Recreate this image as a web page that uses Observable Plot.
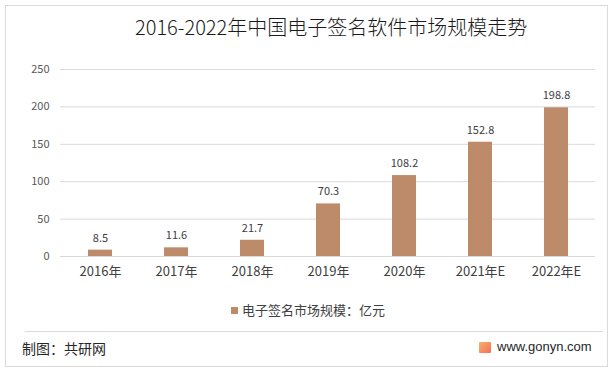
<!DOCTYPE html>
<html><head><meta charset="utf-8">
<script src="https://cdn.jsdelivr.net/npm/d3@7"></script>
<script src="https://cdn.jsdelivr.net/npm/@observablehq/plot@0.6"></script>
<style>
html,body{margin:0;padding:0;background:#fff;}
body{font-family:"Noto Sans CJK SC","Noto Sans",sans-serif;}
#frame{position:relative;width:616px;height:373px;overflow:hidden;}
#border{position:absolute;left:5px;top:5px;width:603px;height:362px;border:1px solid #d9d9d9;box-sizing:border-box;}
#title{position:absolute;left:135px;top:14px;white-space:nowrap;font-size:20px;line-height:26px;color:#1a1a1a;font-weight:300;}
#chart{position:absolute;left:0;top:0;}
#legend{position:absolute;top:301px;left:231px;font-size:13px;line-height:18px;color:#404040;display:flex;align-items:center;}
#legend span.sw{display:inline-block;width:7px;height:7px;background:#BE8B6A;margin-right:4px;}
#divider{position:absolute;left:25px;top:331px;width:578px;height:1px;background:#d9d9d9;}
#caption{position:absolute;left:22px;top:338px;font-size:14px;line-height:20px;color:#262626;}
#site{position:absolute;left:479px;top:338px;font-size:13px;line-height:18px;color:#262626;display:flex;align-items:center;font-family:"Liberation Sans",Arial,sans-serif;}
#site .logo{display:inline-block;width:12px;height:11px;background:linear-gradient(135deg,#f7b267,#f27059);margin-right:6px;border-radius:1px;}
</style></head>
<body>
<div id="frame">
  <div id="border"></div>
  <div id="chart"></div>
  <div id="title"></div>
  <div id="legend"><span class="sw"></span><span id="legendText"></span></div>
  <div id="divider"></div>
  <div id="caption"></div>
  <div id="site"><span class="logo"></span><span>www.gonyn.com</span></div>
</div>
<script>
const titleText = "2016-2022年中国电子签名软件市场规模走势";
const years = ["2016年","2017年","2018年","2019年","2020年","2021年E","2022年E"];
const values = [8.5, 11.6, 21.7, 70.3, 108.2, 152.8, 198.8];
const yTicks = [0, 50, 100, 150, 200, 250];
const seriesName = "电子签名市场规模：亿元";
const captionText = "制图：共研网";

document.getElementById("title").textContent = titleText;
document.getElementById("legendText").textContent = seriesName;
document.getElementById("caption").textContent = captionText;

const data = years.map((y, i) => ({year: y, value: values[i]}));
const color = "#BE8B6A";

const chart = Plot.plot({
  width: 616,
  height: 300,
  marginTop: 69,
  marginBottom: 44,
  marginLeft: 60,
  marginRight: 21,
  style: {fontFamily: "'Noto Sans CJK SC','Noto Sans',sans-serif", background: "transparent"},
  x: {domain: years, paddingInner: 0.69, paddingOuter: 0.345, label: null},
  y: {domain: [0, 250], ticks: yTicks, label: null},
  marks: [
    Plot.gridY(yTicks, {stroke: "#d9d9d9", strokeOpacity: 1}),
    Plot.axisY({ticks: yTicks, tickSize: 0, tickPadding: 11, fontSize: 11, fill: "#595959", label: null}),
    Plot.axisX({tickSize: 0, tickPadding: 10, fontSize: 13, fill: "#404040", label: null}),
    Plot.barY(data, {x: "year", y: "value", fill: color}),
    Plot.ruleY([0], {stroke: "#d9d9d9"}),
    Plot.text(data, {x: "year", y: "value", text: d => String(d.value), dy: -12, fontSize: 11, fill: "#404040"})
  ]
});
document.getElementById("chart").appendChild(chart);
</script>
</body></html>
